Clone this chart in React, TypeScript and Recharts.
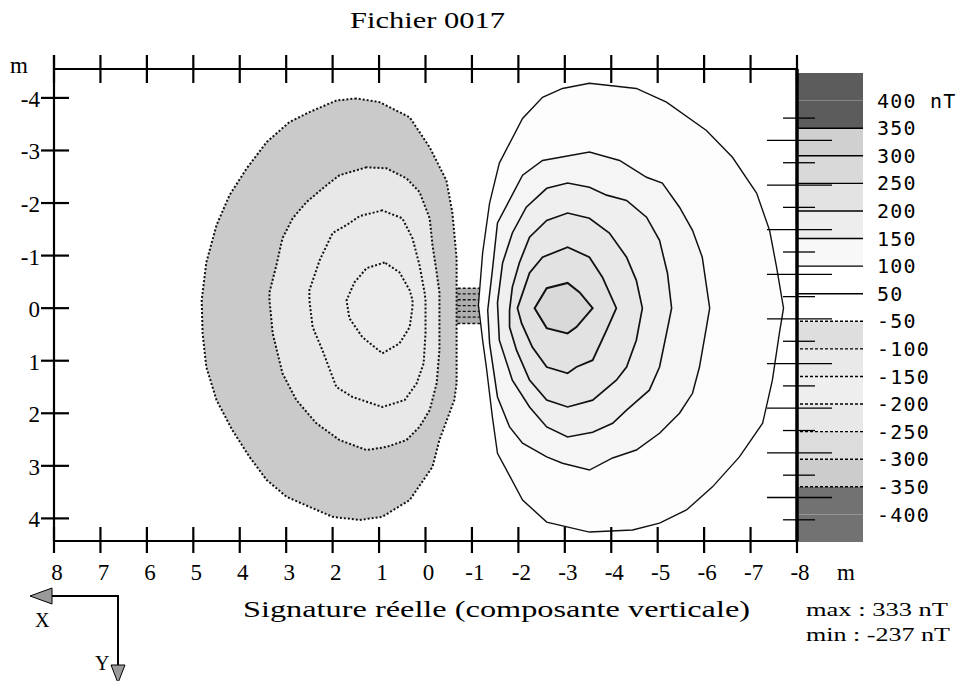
import React from 'react'
import {
  ScatterChart,
  Scatter,
  XAxis,
  YAxis,
  ReferenceArea,
  ReferenceLine,
  Curve,
  BarChart,
  Bar,
} from 'recharts'

// axis ticks (metres)
const X_TICKS = [8, 7, 6, 5, 4, 3, 2, 1, 0, -1, -2, -3, -4, -5, -6, -7, -8]
const Y_TICKS = [-4, -3, -2, -1, 0, 1, 2, 3, 4]
const RULE_TICKS = [0, 1, 2, 3, 4, 5, 6, 7, 8, 9, 10, 11, 12, 13, 14, 15, 16, 17, 18]

// positive contours (solid), [x, y] in metres
const POS_050 = [[-7.71, 0], [-7.62, 0.48], [-7.47, 1.37], [-7.26, 2.19], [-6.76, 2.83], [-6.18, 3.4], [-5.62, 3.84], [-5.04, 4.09], [-4.46, 4.22], [-3.53, 4.26], [-2.61, 4.07], [-2.09, 3.65], [-1.55, 2.76], [-1.44, 2.07], [-1.31, 1.12], [-1.23, 0.61], [-1.14, -0.06], [-1.23, -1.05], [-1.38, -2.0], [-1.59, -2.76], [-2.09, -3.61], [-2.52, -4.01], [-2.95, -4.18], [-3.53, -4.28], [-4.54, -4.18], [-5.19, -3.92], [-6.05, -3.38], [-6.61, -2.87], [-7.13, -2.19], [-7.41, -1.48], [-7.56, -0.78]]
const POS_100 = [[-6.12, 0], [-6.05, 0.36], [-5.9, 1.12], [-5.75, 1.62], [-5.47, 2.0], [-5.04, 2.38], [-4.54, 2.7], [-4.03, 2.85], [-3.53, 3.08], [-2.95, 2.95], [-2.61, 2.83], [-2.09, 2.57], [-1.81, 2.26], [-1.55, 1.69], [-1.38, 0.67], [-1.34, 0.04], [-1.44, -0.72], [-1.55, -1.62], [-2.09, -2.53], [-2.52, -2.81], [-3.53, -2.97], [-4.18, -2.81], [-4.76, -2.49], [-5.1, -2.38], [-5.47, -1.92], [-5.75, -1.48], [-5.96, -0.97]]
const POS_150 = [[-5.3, 0], [-5.19, 0.48], [-5.04, 1.12], [-4.82, 1.56], [-4.33, 1.94], [-4.03, 2.19], [-3.6, 2.36], [-3.06, 2.45], [-2.61, 2.26], [-2.24, 1.88], [-1.87, 1.37], [-1.59, 0.61], [-1.55, -0.1], [-1.66, -0.86], [-1.87, -1.43], [-2.17, -1.92], [-2.61, -2.28], [-3.06, -2.38], [-3.53, -2.3], [-3.9, -2.15], [-4.33, -2.05], [-4.76, -1.73], [-5.04, -1.29], [-5.21, -0.67]]
const POS_200 = [[-4.67, 0], [-4.54, 0.61], [-4.33, 1.12], [-4.11, 1.37], [-3.6, 1.75], [-3.06, 1.88], [-2.61, 1.75], [-2.24, 1.37], [-1.96, 0.8], [-1.81, 0.36], [-1.81, 0.04], [-1.87, -0.4], [-2.02, -0.86], [-2.24, -1.35], [-2.61, -1.67], [-3.06, -1.81], [-3.53, -1.71], [-3.96, -1.43], [-4.33, -0.97], [-4.54, -0.53]]
const POS_250 = [[-4.11, 0], [-3.9, 0.42], [-3.6, 0.99], [-3.25, 1.12], [-3.06, 1.24], [-2.61, 1.12], [-2.3, 0.74], [-2.07, 0.29], [-1.98, 0], [-2.24, -0.67], [-2.52, -0.97], [-3.06, -1.16], [-3.53, -0.97], [-3.81, -0.59]]
const POS_300 = [[-3.6, 0], [-3.25, 0.36], [-3.06, 0.48], [-2.61, 0.38], [-2.35, 0], [-2.61, -0.38], [-3.06, -0.48], [-3.32, -0.3]]

// negative contours (dotted)
const NEG_050 = [[1.49, -3.99], [1.92, -3.95], [2.5, -3.73], [2.93, -3.54], [3.42, -3.16], [3.85, -2.66], [4.22, -2.15], [4.5, -1.58], [4.72, -0.87], [4.82, -0.15], [4.8, 0.48], [4.72, 1.12], [4.5, 1.75], [4.16, 2.32], [3.79, 2.83], [3.42, 3.27], [2.99, 3.59], [2.5, 3.78], [2.0, 3.97], [1.42, 4.03], [0.93, 3.97], [0.34, 3.65], [-0.15, 3.02], [-0.3, 2.51], [-0.62, 1.75], [-0.67, 1.43], [-0.67, 0.48], [-0.67, -0.15], [-0.67, -0.95], [-0.58, -1.81], [-0.45, -2.43], [-0.09, -3.06], [0.34, -3.63], [0.99, -3.92]]
const NEG_100 = [[1.27, -2.68], [1.85, -2.53], [2.13, -2.34], [2.56, -2.02], [2.86, -1.71], [3.08, -1.33], [3.21, -0.82], [3.36, -0.3], [3.36, -0.15], [3.29, 0.48], [3.08, 1.24], [2.78, 1.75], [2.35, 2.19], [1.85, 2.51], [1.27, 2.7], [0.84, 2.64], [0.41, 2.51], [0.13, 2.26], [-0.09, 1.94], [-0.24, 1.43], [-0.3, 0.8], [-0.3, 0.48], [-0.3, -0.3], [-0.24, -0.68], [-0.15, -1.2], [-0.09, -1.71], [0.13, -2.21], [0.41, -2.47], [0.84, -2.66]]
const NEG_150 = [[0.93, -1.86], [1.42, -1.75], [1.7, -1.58], [2.0, -1.43], [2.28, -0.91], [2.5, -0.34], [2.5, -0.15], [2.43, 0.36], [2.22, 0.8], [1.92, 1.5], [1.57, 1.69], [0.93, 1.88], [0.45, 1.75], [0.19, 1.43], [0.04, 1.05], [0, 0.48], [0, -0.15], [0.02, -0.3], [0.13, -0.82], [0.28, -1.33], [0.5, -1.71]]
const NEG_200 = [[0.88, -0.87], [1.27, -0.76], [1.53, -0.49], [1.7, -0.15], [1.64, 0.19], [1.36, 0.55], [0.93, 0.86], [0.56, 0.67], [0.34, 0.36], [0.28, -0.02], [0.28, -0.15], [0.34, -0.34], [0.56, -0.68]]

// source outline
const BOX_X = [0.06, -1.85]
const BOX_Y = [-0.38, 0.29]
const BOX_CORE_X = [-0.15, -1.16]
const BOX_ROWS = [-0.27, -0.16, -0.05, 0.06, 0.17]

// colour scale (top to bottom)
const LEGEND_LABELS = ['400 nT', '350', '300', '250', '200', '150', '100', '50', '-50', '-100', '-150', '-200', '-250', '-300', '-350', '-400']
const BAND_FILLS = ['#5c5c5c', '#5c5c5c', '#d0d0d0', '#d9d9d9', '#e3e3e3', '#ededed', '#f8f8f8', '#ffffff', '#ffffff', '#dedede', '#e9e9e9', '#eeeeee', '#e8e8e8', '#dcdcdc', '#cccccc', '#727272', '#727272']

const SERIF = "'Liberation Serif', 'Times New Roman', Times, serif"
const MONO = "'DejaVu Sans Mono', monospace"

const toPts = (a: number[][]) => a.map(([x, y]) => ({ x, y }))
const noDot = () => <g />

const poly = (fill: string, width: number, dash?: string) => (p: any) => (
  <Curve
    points={p.points}
    type="linearClosed"
    fill={fill}
    stroke="#111"
    strokeWidth={width}
    strokeDasharray={dash}
  />
)

const BottomTick = (props: any) => {
  const { x, y, payload } = props
  return (
    <g>
      <line x1={x} x2={x} y1={y - 14} y2={y + 12} stroke="#000" strokeWidth={2.2} />
      <text x={x + 3} y={y + 39} textAnchor="middle" fontFamily={SERIF} fontSize={23} fill="#000">
        {payload.value}
      </text>
    </g>
  )
}

const TopTick = (props: any) => {
  const { x, y } = props
  return <line x1={x} x2={x} y1={y - 14} y2={y + 14} stroke="#000" strokeWidth={2.2} />
}

const LeftTick = (props: any) => {
  const { x, y, payload } = props
  return (
    <g>
      <line x1={x - 13} x2={x + 15} y1={y} y2={y} stroke="#000" strokeWidth={2.2} />
      <text x={x - 14} y={y + 9} textAnchor="end" fontFamily={SERIF} fontSize={23} fill="#000">
        {payload.value}
      </text>
    </g>
  )
}

const RightTick = (props: any) => {
  const { x, y, payload } = props
  const long = payload.value % 2 === 1
  return (
    <line
      x1={long ? x - 30 : x - 14}
      x2={long ? x + 35 : x + 18}
      y1={y}
      y2={y}
      stroke="#000"
      strokeWidth={1.3}
    />
  )
}

export default function App() {
  const bandRow: Record<string, any> = { name: 'nT' }
  BAND_FILLS.forEach((_, i) => {
    bandRow[`b${i}`] = 1
  })
  const bandOrder = BAND_FILLS.map((_, i) => i).reverse()

  return (
    <div style={{ position: 'absolute', left: 0, top: 0, width: 963, height: 681, background: '#fff', overflow: 'hidden' }}>
      {/* colour scale */}
      <div style={{ position: 'absolute', left: 797, top: 73 }}>
        <BarChart width={166} height={469} data={[bandRow]} margin={{ top: 0, right: 0, bottom: 0, left: 0 }} barCategoryGap={0} barGap={0}>
          <XAxis dataKey="name" type="category" hide />
          <YAxis
            orientation="right"
            type="number"
            domain={[0, 17]}
            allowDataOverflow
            width={100}
            ticks={LEGEND_LABELS.map((_, i) => 16 - i)}
            tickFormatter={(v) => LEGEND_LABELS[16 - v]}
            interval={0}
            axisLine={false}
            tickLine={false}
            tickSize={0}
            tickMargin={14}
            tick={{ fill: '#000', fontFamily: MONO, fontSize: 20, letterSpacing: 1.2 }}
          />
          {bandOrder.map((i) => (
            <Bar key={i} dataKey={`b${i}`} stackId="c" fill={BAND_FILLS[i]} isAnimationActive={false} />
          ))}
          {LEGEND_LABELS.map((lab, i) =>
            i === 0 || i === 15 ? null : (
              <ReferenceLine
                key={lab}
                y={16 - i}
                stroke="#000"
                strokeWidth={1.4}
                strokeDasharray={lab.startsWith('-') ? '3 2' : undefined}
              />
            )
          )}
        </BarChart>
      </div>

      {/* contour map */}
      <div style={{ position: 'absolute', left: 0, top: 0 }}>
        <ScatterChart width={963} height={681} margin={{ top: 0, right: 0, bottom: 0, left: 0 }}>
          <XAxis
            xAxisId="b"
            type="number"
            dataKey="x"
            domain={[-8, 8]}
            reversed
            allowDataOverflow
            ticks={X_TICKS}
            interval={0}
            height={140}
            axisLine={{ stroke: '#000', strokeWidth: 2.2 }}
            tickLine={false}
            tickSize={0}
            tickMargin={0}
            tick={BottomTick}
          />
          <XAxis
            xAxisId="t"
            orientation="top"
            type="number"
            dataKey="x"
            domain={[-8, 8]}
            reversed
            allowDataOverflow
            ticks={X_TICKS}
            interval={0}
            height={69}
            axisLine={{ stroke: '#000', strokeWidth: 2.2 }}
            tickLine={false}
            tickSize={0}
            tickMargin={0}
            tick={TopTick}
          />
          <YAxis
            yAxisId="m"
            type="number"
            dataKey="y"
            domain={[-4.55, 4.43]}
            reversed
            allowDataOverflow
            ticks={Y_TICKS}
            interval={0}
            width={54}
            axisLine={{ stroke: '#000', strokeWidth: 2.2 }}
            tickLine={false}
            tickSize={0}
            tickMargin={0}
            tick={LeftTick}
          />
          <YAxis
            yAxisId="r"
            orientation="right"
            type="number"
            dataKey="y"
            domain={[-2.2, 18.95]}
            reversed
            allowDataOverflow
            ticks={RULE_TICKS}
            interval={0}
            width={166}
            axisLine={{ stroke: '#000', strokeWidth: 3.5 }}
            tickLine={false}
            tickSize={0}
            tickMargin={0}
            tick={RightTick}
          />

          <Scatter xAxisId="t" yAxisId="r" data={RULE_TICKS.map((v) => ({ x: 0, y: v }))} shape={noDot} isAnimationActive={false} />

          <Scatter xAxisId="b" yAxisId="m" data={toPts(NEG_050)} line={poly('#cacaca', 2, '2 2')} shape={noDot} isAnimationActive={false} />
          <Scatter xAxisId="b" yAxisId="m" data={toPts(NEG_100)} line={poly('#e8e8e8', 2, '2 2')} shape={noDot} isAnimationActive={false} />
          <Scatter xAxisId="b" yAxisId="m" data={toPts(NEG_150)} line={poly('#eaeaea', 2, '2 2')} shape={noDot} isAnimationActive={false} />
          <Scatter xAxisId="b" yAxisId="m" data={toPts(NEG_200)} line={poly('#ececec', 2, '2 2')} shape={noDot} isAnimationActive={false} />

          <Scatter xAxisId="b" yAxisId="m" data={toPts(POS_050)} line={poly('#fdfdfd', 1.4)} shape={noDot} isAnimationActive={false} />
          <Scatter xAxisId="b" yAxisId="m" data={toPts(POS_100)} line={poly('#f5f5f5', 1.5)} shape={noDot} isAnimationActive={false} />
          <Scatter xAxisId="b" yAxisId="m" data={toPts(POS_150)} line={poly('#efefef', 1.6)} shape={noDot} isAnimationActive={false} />
          <Scatter xAxisId="b" yAxisId="m" data={toPts(POS_200)} line={poly('#e8e8e8', 1.7)} shape={noDot} isAnimationActive={false} />
          <Scatter xAxisId="b" yAxisId="m" data={toPts(POS_250)} line={poly('#e2e2e2', 1.8)} shape={noDot} isAnimationActive={false} />
          <Scatter xAxisId="b" yAxisId="m" data={toPts(POS_300)} line={poly('#d9d9d9', 2)} shape={noDot} isAnimationActive={false} />

          {/* source */}
          <ReferenceArea
            xAxisId="b"
            yAxisId="m"
            x1={BOX_CORE_X[0]}
            x2={BOX_CORE_X[1]}
            y1={BOX_Y[0]}
            y2={BOX_Y[1]}
            fill="#9a9a9a"
            fillOpacity={0.8}
            stroke="none"
          />
          {BOX_ROWS.map((r) => (
            <ReferenceLine
              key={r}
              xAxisId="b"
              yAxisId="m"
              segment={[{ x: BOX_X[0], y: r }, { x: BOX_X[1], y: r }]}
              stroke="#111"
              strokeWidth={1.3}
              strokeDasharray="3 2"
            />
          ))}
          <ReferenceArea
            xAxisId="b"
            yAxisId="m"
            x1={BOX_X[0]}
            x2={BOX_X[1]}
            y1={BOX_Y[0]}
            y2={BOX_Y[1]}
            fill="none"
            stroke="#111"
            strokeWidth={1.5}
            strokeDasharray="3 2"
          />
        </ScatterChart>
      </div>

      {/* titles and decorations */}
      <svg width={963} height={681} style={{ position: 'absolute', left: 0, top: 0, pointerEvents: 'none' }}>
        <text x={350} y={28} fontFamily={SERIF} fontSize={23} textLength={155} lengthAdjust="spacingAndGlyphs" fill="#000">
          Fichier 0017
        </text>
        <text x={10} y={73} fontFamily={SERIF} fontSize={23} fill="#000">m</text>
        <text x={837} y={580} fontFamily={SERIF} fontSize={23} fill="#000">m</text>
        <line x1={54} x2={54} y1={55} y2={69} stroke="#000" strokeWidth={2.2} />
        <text x={243} y={617} fontFamily={SERIF} fontSize={23} textLength={507} lengthAdjust="spacingAndGlyphs" fill="#000">
          Signature réelle (composante verticale)
        </text>
        <text x={806} y={616} fontFamily={SERIF} fontSize={19} textLength={142} lengthAdjust="spacingAndGlyphs" fill="#000">
          max : 333 nT
        </text>
        <text x={806} y={641} fontFamily={SERIF} fontSize={19} textLength={144} lengthAdjust="spacingAndGlyphs" fill="#000">
          min : -237 nT
        </text>
        <line x1={50} x2={119} y1={596} y2={596} stroke="#000" strokeWidth={2} />
        <polygon points="30,596 52,588 52,604" fill="#9a9a9a" stroke="#000" strokeWidth={1} />
        <line x1={118} x2={118} y1={596} y2={666} stroke="#000" strokeWidth={2} />
        <polygon points="111,665 125,665 118,683" fill="#9a9a9a" stroke="#000" strokeWidth={1} />
        <text x={35} y={627} fontFamily={SERIF} fontSize={20} fill="#000">X</text>
        <text x={95} y={670} fontFamily={SERIF} fontSize={20} fill="#000">Y</text>
      </svg>
    </div>
  )
}
